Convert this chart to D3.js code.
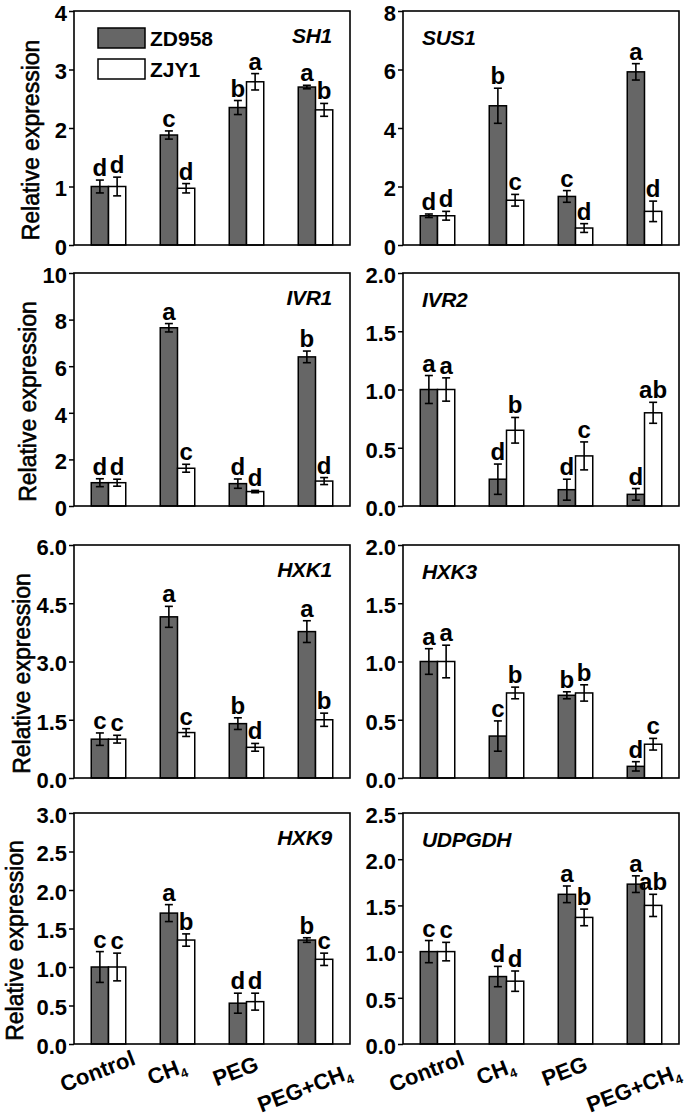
<!DOCTYPE html>
<html>
<head>
<meta charset="utf-8">
<script src="https://cdn.jsdelivr.net/npm/d3@7"></script>
<style>
  html, body { margin: 0; padding: 0; background: #fff; }
  svg { display: block; font-family: "Liberation Sans", Arial, sans-serif; }
</style>
</head>
<body>
<svg id="chart" width="685" height="1117"></svg>
<script>
// ---------------- data ----------------
const categories = ["Control", "CH4", "PEG", "PEG+CH4"];
const series = ["ZD958", "ZJY1"];
const genes = ["SH1", "SUS1", "IVR1", "IVR2", "HXK1", "HXK3", "HXK9", "UDPGDH"];
const yMax = [4, 8, 10, 2, 6, 2, 3, 2.5];
const tickLabels = [
  ["0", "1", "2", "3", "4"],
  ["0", "2", "4", "6", "8"],
  ["0", "2", "4", "6", "8", "10"],
  ["0.0", "0.5", "1.0", "1.5", "2.0"],
  ["0.0", "1.5", "3.0", "4.5", "6.0"],
  ["0.0", "0.5", "1.0", "1.5", "2.0"],
  ["0.0", "0.5", "1.0", "1.5", "2.0", "2.5", "3.0"],
  ["0.0", "0.5", "1.0", "1.5", "2.0", "2.5"]
];
const zd958Mean = [
  [1.00, 1.88, 2.35, 2.70],
  [1.00, 4.76, 1.66, 5.92],
  [1.00, 7.65, 0.96, 6.40],
  [1.00, 0.23, 0.14, 0.10],
  [1.00, 4.15, 1.40, 3.77],
  [1.00, 0.36, 0.71, 0.10],
  [1.00, 1.70, 0.53, 1.35],
  [1.00, 0.73, 1.62, 1.73]
];
const zd958Err = [
  [0.11, 0.07, 0.12, 0.03],
  [0.06, 0.60, 0.20, 0.28],
  [0.17, 0.18, 0.20, 0.25],
  [0.12, 0.13, 0.09, 0.05],
  [0.16, 0.27, 0.15, 0.28],
  [0.11, 0.13, 0.03, 0.04],
  [0.20, 0.11, 0.13, 0.03],
  [0.12, 0.11, 0.09, 0.09]
];
const zjy1Mean = [
  [1.00, 0.97, 2.79, 2.31],
  [1.00, 1.53, 0.58, 1.15],
  [1.00, 1.62, 0.62, 1.07],
  [1.00, 0.65, 0.43, 0.80],
  [1.00, 1.17, 0.79, 1.50],
  [1.00, 0.73, 0.73, 0.29],
  [1.00, 1.35, 0.55, 1.10],
  [1.00, 0.68, 1.37, 1.50]
];
const zjy1Err = [
  [0.16, 0.08, 0.14, 0.11],
  [0.15, 0.20, 0.15, 0.35],
  [0.15, 0.17, 0.05, 0.15],
  [0.10, 0.11, 0.12, 0.09],
  [0.10, 0.10, 0.10, 0.17],
  [0.14, 0.05, 0.07, 0.05],
  [0.18, 0.08, 0.11, 0.08],
  [0.10, 0.11, 0.09, 0.12]
];
const zd958Letters = [
  ["d", "c", "b", "a"],
  ["d", "b", "c", "a"],
  ["d", "a", "d", "b"],
  ["a", "d", "d", "d"],
  ["c", "a", "b", "a"],
  ["a", "c", "b", "d"],
  ["c", "a", "d", "b"],
  ["c", "d", "a", "a"]
];
const zjy1Letters = [
  ["d", "d", "a", "b"],
  ["d", "c", "d", "d"],
  ["d", "c", "d", "d"],
  ["a", "b", "c", "ab"],
  ["c", "c", "d", "b"],
  ["a", "b", "b", "c"],
  ["c", "b", "d", "c"],
  ["c", "d", "b", "ab"]
];
const yAxisTitle = "Relative expression";

// ---------------- layout ----------------
const colLeft = [74, 403];
const plotW = 276;
const rowTop = [11, 273, 545, 813];
const rowBottom = [245, 506, 778, 1044];
const titleX = [31, 28, 22, 15];
const fills = ["#666666", "#ffffff"];

const svg = d3.select("#chart");

genes.forEach((gene, p) => {
  const col = p % 2, row = Math.floor(p / 2);
  const left = colLeft[col], top = rowTop[row], bottom = rowBottom[row];
  const g = svg.append("g");

  const y = d3.scaleLinear().domain([0, yMax[p]]).range([bottom, top]);
  const x = d3.scaleBand().domain(categories).range([left, left + plotW])
    .paddingInner(0.5).paddingOuter(0.25);
  const xs = d3.scaleBand().domain(series).range([0, x.bandwidth()]);

  // axis
  const ticks = tickLabels[p].map(Number);
  const axis = d3.axisLeft(y).tickValues(ticks)
    .tickFormat((d, i) => tickLabels[p][i]).tickSize(5).tickSizeOuter(0).tickPadding(2);
  const ag = g.append("g").attr("transform", `translate(${left},0)`).call(axis);
  ag.select(".domain").remove();
  ag.selectAll(".tick line").attr("stroke", "#000").attr("stroke-width", 1.5);
  ag.selectAll(".tick text").attr("fill", "#000").attr("dy", "0.42em")
    .style("font-size", "22px").style("font-weight", "bold")
    .style("font-family", "'Liberation Sans', Arial, sans-serif");

  // bars
  const rows = categories.map((c, i) => [
    { cat: c, s: series[0], v: zd958Mean[p][i], e: zd958Err[p][i], l: zd958Letters[p][i], k: 0 },
    { cat: c, s: series[1], v: zjy1Mean[p][i], e: zjy1Err[p][i], l: zjy1Letters[p][i], k: 1 }
  ]).flat();

  g.selectAll("rect.bar").data(rows).join("rect").attr("class", "bar")
    .attr("x", d => x(d.cat) + xs(d.s))
    .attr("width", xs.bandwidth())
    .attr("y", d => y(d.v))
    .attr("height", d => y(0) - y(d.v))
    .attr("fill", d => fills[d.k])
    .attr("stroke", "#000").attr("stroke-width", 1.5);

  // error bars
  const cx = d => x(d.cat) + xs(d.s) + xs.bandwidth() / 2;
  const eb = g.selectAll("g.err").data(rows).join("g").attr("class", "err")
    .attr("stroke", "#000").attr("stroke-width", 1.6);
  eb.append("line").attr("x1", cx).attr("x2", cx)
    .attr("y1", d => y(d.v - d.e)).attr("y2", d => y(d.v + d.e));
  eb.append("line").attr("x1", d => cx(d) - 4).attr("x2", d => cx(d) + 4)
    .attr("y1", d => y(d.v + d.e)).attr("y2", d => y(d.v + d.e));
  eb.append("line").attr("x1", d => cx(d) - 4).attr("x2", d => cx(d) + 4)
    .attr("y1", d => y(d.v - d.e)).attr("y2", d => y(d.v - d.e));

  // significance letters
  g.selectAll("text.sig").data(rows).join("text").attr("class", "sig")
    .attr("x", cx).attr("y", d => y(d.v + d.e) - 4)
    .attr("text-anchor", "middle")
    .style("font-size", "24px").style("font-weight", "bold")
    .text(d => d.l);

  // frame
  g.append("rect").attr("x", left).attr("y", top).attr("width", plotW)
    .attr("height", bottom - top).attr("fill", "none")
    .attr("stroke", "#000").attr("stroke-width", 1.6);

  // gene label
  g.append("text")
    .attr("x", col === 0 ? left + plotW - 18 : left + 19)
    .attr("y", top + (col === 0 ? 32 : 34))
    .attr("text-anchor", col === 0 ? "end" : "start")
    .style("font-size", "21px").style("font-weight", "bold").style("font-style", "italic")
    .style("letter-spacing", "-0.3px")
    .text(gene);

  // y title
  if (col === 0) {
    g.append("text")
      .attr("transform", `translate(${titleX[row]},${(top + bottom) / 2 + 12}) rotate(-90)`)
      .attr("text-anchor", "middle")
      .attr("dy", "0.35em")
      .attr("stroke", "#000").attr("stroke-width", 0.6)
      .style("font-size", "23px")
      .text(yAxisTitle);
  }

  // x labels on bottom row
  if (row === 3) {
    categories.forEach((c, i) => {
      const px = x(c) + x.bandwidth() / 2 - 11;
      const py = bottom + 27 + (i === categories.length - 1 ? 17 : 0);
      const t = g.append("text")
        .attr("transform", `translate(${px},${py}) rotate(-21)`)
        .attr("text-anchor", "middle")
        .attr("dy", "0.35em")
        .style("font-size", "22px").style("font-weight", "bold");
      const m = c.match(/^(.*CH)4$/);
      if (m) {
        t.append("tspan").text(m[1]);
        t.append("tspan").attr("dy", 5).style("font-size", "13px").text("4");
      } else {
        t.text(c);
      }
    });
  }

  // legend
  if (p === 0) {
    const lg = g.append("g");
    series.forEach((s, k) => {
      lg.append("rect").attr("x", left + 24).attr("y", top + 17 + k * 31)
        .attr("width", 47).attr("height", 20)
        .attr("fill", fills[k]).attr("stroke", "#000").attr("stroke-width", 1.5);
      lg.append("text").attr("x", left + 76).attr("y", top + 35 + k * 31)
        .style("font-size", "21px").style("font-weight", "bold").text(s);
    });
  }
});
</script>
</body>
</html>
